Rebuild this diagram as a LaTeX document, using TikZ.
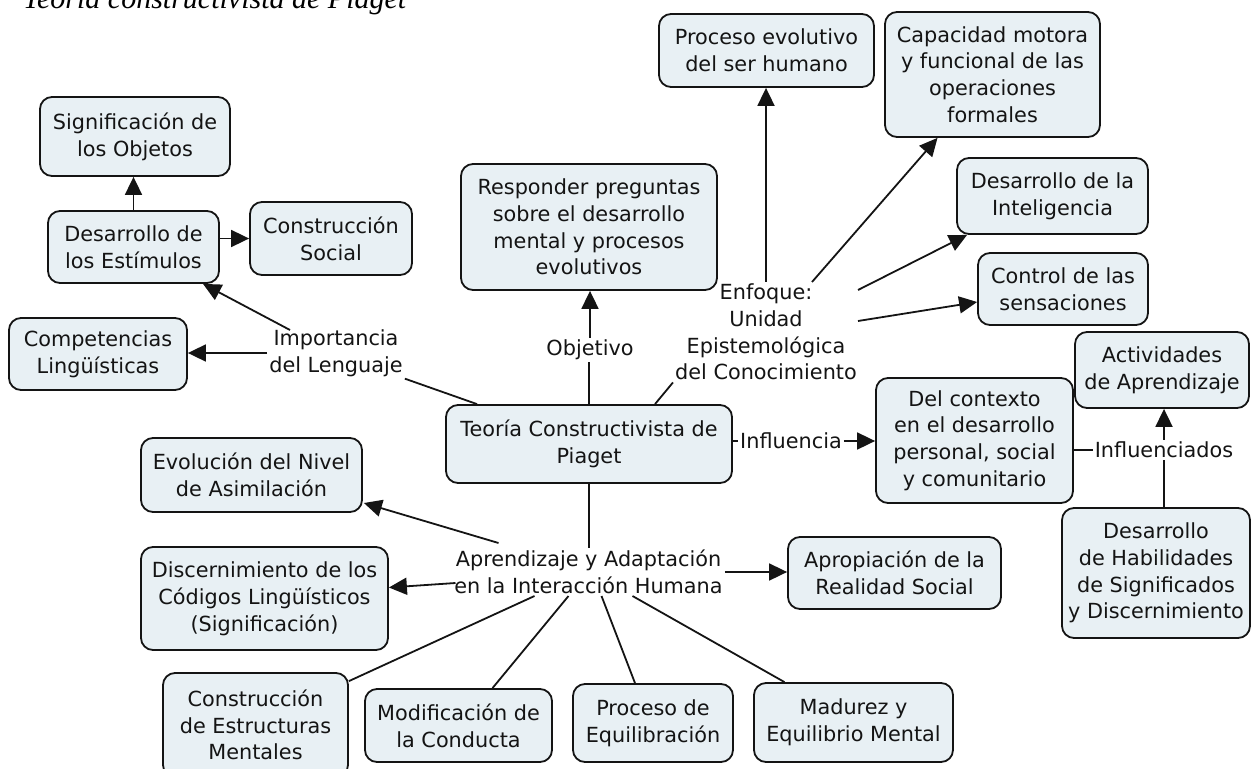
\documentclass[tikz,border=0pt]{standalone}
\usepackage{fontspec}
\setmainfont{DejaVu Sans}
\newfontfamily\titlefont{Liberation Serif}
\usetikzlibrary{arrows.meta,calc}
\definecolor{boxfill}{RGB}{232,240,244}
\definecolor{ink}{RGB}{20,20,20}
\tikzset{
  box/.style={draw=ink, line width=1.8pt, fill=boxfill, rounded corners=12pt,
    align=center, inner sep=0pt, text=ink},
  lab/.style={align=center, inner sep=2pt, text=ink},
  ln/.style={draw=ink, line width=1.8pt},
  arr/.style={draw=ink, line width=1.8pt, -{Triangle[length=18pt,width=17pt]}},
}
\begin{document}
\begin{tikzpicture}[x=1pt,y=-1pt,
  every node/.append style={font=\fontsize{20.8}{26.8}\selectfont}]
\useasboundingbox (0,0) rectangle (1252,768);

\node[anchor=base west, inner sep=0pt, text=black, font=\titlefont\itshape\fontsize{30}{30}\selectfont] (title) at (23,9) {Teoría constructivista de Piaget};

% boxes
\node[box, minimum width=190, minimum height=79] (sig) at (135,136.5) {Significación de\\los Objetos};
\node[box, minimum width=171, minimum height=72] (est) at (133.5,247) {Desarrollo de\\los Estímulos};
\node[box, minimum width=162, minimum height=73] (soc) at (331,238.5) {Construcción\\Social};
\node[box, minimum width=178, minimum height=72] (comp) at (98,354) {Competencias\\Lingüísticas};
\node[lab] (imp) at (336,353) {Importancia\\del Lenguaje};

\node[box, minimum width=256, minimum height=126] (resp) at (589,227) {Responder preguntas\\sobre el desarrollo\\mental y procesos\\evolutivos};
\node[lab] (obj) at (590,350) {Objetivo};

\node[box, minimum width=215, minimum height=73] (proc) at (766.5,50.5) {Proceso evolutivo\\del ser humano};
\node[box, minimum width=215, minimum height=125] (cap) at (992.5,74.5) {Capacidad motora\\y funcional de las\\operaciones\\formales};
\node[box, minimum width=191, minimum height=76] (intel) at (1052.5,196) {Desarrollo de la\\Inteligencia};
\node[box, minimum width=170, minimum height=72] (ctrl) at (1063,289) {Control de las\\sensaciones};
\node[lab] (enf) at (766,332) {Enfoque:\\Unidad\\Epistemológica\\del Conocimiento};

\node[box, minimum width=286, minimum height=78] (teo) at (589,444) {Teoría Constructivista de\\Piaget};
\node[lab] (infl) at (791,441) {Influencia};
\node[box, minimum width=197, minimum height=125] (ctx) at (974.5,440.5) {Del contexto\\en el desarrollo\\personal, social\\y comunitario};
\node[box, minimum width=174, minimum height=76] (act) at (1162,370) {Actividades\\de Aprendizaje};
\node[lab] (inflados) at (1164,450) {Influenciados};
\node[box, minimum width=188, minimum height=130] (hab) at (1156,573) {Desarrollo\\de Habilidades\\de Significados\\y Discernimiento};

\node[box, minimum width=221, minimum height=74] (evo) at (251.5,475) {Evolución del Nivel\\de Asimilación};
\node[lab] (apr) at (588.5,572) {Aprendizaje y Adaptación\\en la Interacción Humana};
\node[box, minimum width=247, minimum height=103] (disc) at (264.5,598.5) {Discernimiento de los\\Códigos Lingüísticos\\(Significación)};
\node[box, minimum width=213, minimum height=72] (apro) at (894.5,573) {Apropiación de la\\Realidad Social};
\node[box, minimum width=185, minimum height=104] (cons) at (255.5,725) {Construcción\\de Estructuras\\Mentales};
\node[box, minimum width=187, minimum height=73] (mod) at (458.5,725.5) {Modificación de\\la Conducta};
\node[box, minimum width=160, minimum height=78] (equi) at (653,723) {Proceso de\\Equilibración};
\node[box, minimum width=199, minimum height=79] (mad) at (853.5,722.5) {Madurez y\\Equilibrio Mental};

% connectors
\draw[arr] (est.north) -- (est.north |- sig.south);
\draw[arr] (est.east |- soc.west) -- (soc.west);
\draw[ln] ([shift={(-112,0)}]teo.north) -- (imp.south east);
\draw[arr] ([shift={(-46,-23)}]imp.center) -- (est);
\draw[arr] (imp.west) -- (imp.west -| comp.east);

\draw[ln] (teo.north) -- (teo.north |- obj.south);
\draw[arr] (obj.north) -- (obj.north |- resp.south);

\draw[ln] ([shift={(66,0)}]teo.north) -- (enf.south west);
\draw[arr] (enf.north) -- (enf.north |- proc.south);
\draw[arr] ([shift={(46,-50)}]enf.center) -- ([shift={(-55,0)}]cap.south);
\draw[arr] ([shift={(92,-42)}]enf.center) -- ([shift={(11,0)}]intel.south west);
\draw[arr] ([shift={(92,-11)}]enf.center) -- ([shift={(0,13)}]ctrl.west);

\draw[ln] (teo.east |- infl.west) -- (infl.west);
\draw[arr] (infl.east) -- (infl.east -| ctx.west);
\draw[ln] (ctx.east |- inflados.west) -- (inflados.west);
\draw[ln] (inflados.south) -- (inflados.south |- hab.north);
\draw[arr] (inflados.north) -- (inflados.north |- act.south);

\draw[ln] (teo.south) -- (teo.south |- apr.north);
\draw[arr] ([shift={(-90,-29)}]apr.center) -- ([shift={(1,28)}]evo.east);
\draw[arr] ([shift={(-133,11)}]apr.center) -- ([shift={(0,-11)}]disc.east);
\draw[arr] (apr.east) -- (apr.east -| apro.west);
\draw[ln] ([shift={(-54,24)}]apr.center) -- ([shift={(0,9)}]cons.north east);
\draw[ln] ([shift={(-20,24)}]apr.center) -- ([shift={(34,0)}]mod.north);
\draw[ln] ([shift={(13,24)}]apr.center) -- ([shift={(-18,0)}]equi.north);
\draw[ln] ([shift={(44,24)}]apr.center) -- ([shift={(-69,0)}]mad.north);
\end{tikzpicture}
\end{document}
